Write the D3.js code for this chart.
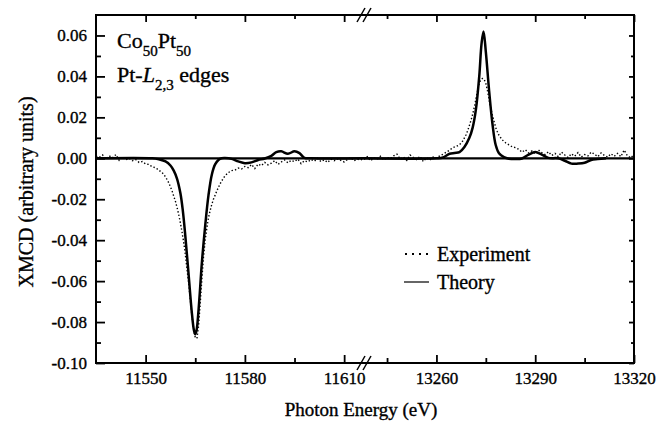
<!DOCTYPE html>
<html>
<head>
<meta charset="utf-8">
<style>
    body { margin: 0; background: #fff; }
    svg { display: block; font-family: 'Liberation Serif', 'Times New Roman', serif; }
    svg text { stroke: #000; stroke-width: 0.35px; }
</style>
</head>
<body>
<svg width="670" height="422"></svg>
<script src="https://d3js.org/d3.v7.min.js"></script>
<script>
// axis ticks
const yMajor = [-0.10, -0.08, -0.06, -0.04, -0.02, 0.00, 0.02, 0.04, 0.06];
const yMinor = [-0.09, -0.07, -0.05, -0.03, -0.01, 0.01, 0.03, 0.05];
const xLeftMajor = [11550, 11580, 11610];
const xLeftMinor = [11565, 11595];
const xRightMajor = [13260, 13290, 13320];
const xRightMinor = [13245, 13275, 13305];

// Pt-L3 edge (left segment) - theory
const thLeftE = [11535, 11552, 11554, 11556, 11557.5, 11558.5, 11559.5, 11560.5, 11561.2, 11562, 11563, 11564, 11564.6, 11565, 11565.4, 11566, 11567, 11568, 11569, 11570, 11571, 11572, 11573, 11574, 11576, 11578, 11580, 11582, 11584, 11586, 11588, 11589.5, 11591, 11593, 11595, 11596.5, 11598, 11600, 11616];
const thLeftV = [0, 0, -0.0005, -0.0015, -0.0035, -0.006, -0.010, -0.017, -0.025, -0.038, -0.057, -0.076, -0.084, -0.086, -0.084, -0.074, -0.051, -0.033, -0.018, -0.008, -0.003, -0.0008, 0, 0.0001, -0.0003, -0.0015, -0.0024, -0.002, -0.0008, -0.0001, 0.0012, 0.003, 0.0034, 0.0022, 0.0034, 0.0025, 0.0002, 0, 0];

// Pt-L3 edge (left segment) - experiment
const exLeftE = [11535, 11536, 11537, 11538, 11539, 11540, 11541, 11542, 11543, 11544, 11545, 11546, 11547, 11548, 11549, 11550, 11551, 11552, 11553, 11554, 11555, 11556, 11556.5, 11557, 11557.5, 11558, 11558.5, 11559, 11559.5, 11560, 11560.5, 11561, 11561.5, 11562, 11562.5, 11563, 11563.5, 11564, 11564.5, 11565, 11565.5, 11566, 11566.5, 11567, 11567.5, 11568, 11568.5, 11569, 11569.5, 11570, 11570.5, 11571, 11571.5, 11572, 11572.5, 11573, 11573.5, 11574, 11575, 11576, 11577, 11578, 11579, 11580, 11581, 11582, 11583, 11584, 11585, 11586, 11587, 11588, 11589, 11590, 11591, 11592, 11593, 11594, 11595, 11596, 11597, 11598, 11599, 11600, 11601, 11602, 11603, 11604, 11605, 11606, 11607, 11608, 11609, 11610, 11611, 11612, 11613, 11614, 11615, 11616];
const exLeftV = [0.0010, 0.0005, 0.0016, -0.0004, 0.0012, 0.0002, 0.0018, -0.0010, 0.0006, -0.0008, 0.0000, -0.0012, -0.0006, -0.0020, -0.0016, -0.0028, -0.0030, -0.0042, -0.0046, -0.0058, -0.0070, -0.0090, -0.0105, -0.0120, -0.0140, -0.0160, -0.0185, -0.0210, -0.0240, -0.0275, -0.0315, -0.0360, -0.0410, -0.0470, -0.0540, -0.0610, -0.0690, -0.0770, -0.0835, -0.0875, -0.0880, -0.0820, -0.0710, -0.0590, -0.0480, -0.0400, -0.0340, -0.0290, -0.0255, -0.0225, -0.0200, -0.0180, -0.0160, -0.0142, -0.0125, -0.0110, -0.0098, -0.0085, -0.0070, -0.0060, -0.0058, -0.0048, -0.0052, -0.0040, -0.0046, -0.0030, -0.0050, -0.0028, -0.0036, -0.0020, -0.0032, -0.0024, -0.0012, -0.0030, -0.0018, -0.0008, -0.0022, -0.0010, -0.0016, -0.0004, -0.0026, -0.0012, -0.0018, -0.0006, -0.0014, 0.0000, -0.0016, -0.0008, -0.0020, -0.0004, -0.0012, -0.0002, -0.0010, -0.0018, -0.0006, 0.0004, -0.0012, -0.0004, -0.0008, -0.0002];

// Pt-L2 edge (right segment) - theory
const thRightE = [13238, 13260, 13262, 13264, 13265.5, 13267, 13268.5, 13270, 13271, 13272, 13273, 13273.7, 13274.3, 13275, 13276, 13277, 13278, 13279, 13280.5, 13282, 13284, 13286, 13288, 13290, 13292, 13294, 13297, 13299, 13301, 13303, 13305, 13307, 13309, 13311.5];
const thRightV = [0, 0, 0.0004, 0.0022, 0.0026, 0.003, 0.0055, 0.010, 0.015, 0.024, 0.040, 0.056, 0.062, 0.052, 0.033, 0.017, 0.0065, 0.0025, 0.0006, -0.0002, -0.0004, -0.0001, 0.0018, 0.0031, 0.0018, 0.0002, 0, -0.0012, -0.0026, -0.0026, -0.0022, -0.0008, -0.0004, 0];

// Pt-L2 edge (right segment) - experiment
const exRightE = [13238, 13239, 13240, 13241, 13242, 13243, 13244, 13245, 13246, 13247, 13248, 13249, 13250, 13251, 13252, 13253, 13254, 13255, 13256, 13257, 13258, 13259, 13260, 13261, 13262, 13263, 13264, 13265, 13266, 13267, 13268, 13268.5, 13269, 13269.5, 13270, 13270.5, 13271, 13271.5, 13272, 13272.5, 13273, 13273.5, 13274, 13274.5, 13275, 13275.5, 13276, 13276.5, 13277, 13277.5, 13278, 13278.5, 13279, 13280, 13281, 13282, 13283, 13284, 13285, 13286, 13287, 13288, 13289, 13290, 13291, 13292, 13293, 13294, 13295, 13296, 13297, 13298, 13299, 13300, 13301, 13302, 13303, 13304, 13305, 13306, 13307, 13308, 13309, 13310, 13311, 13312, 13313, 13314, 13315, 13316, 13317, 13318, 13319, 13320];
const exRightV = [-0.0006, 0.0008, -0.0012, 0.0002, -0.0004, 0.0010, -0.0008, 0.0004, -0.0002, 0.0012, 0.0020, -0.0004, 0.0006, -0.0010, 0.0016, 0.0004, -0.0006, 0.0010, -0.0016, 0.0002, -0.0008, 0.0006, 0.0000, 0.0012, 0.0020, 0.0030, 0.0040, 0.0052, 0.0058, 0.0066, 0.0085, 0.0100, 0.0115, 0.0135, 0.0160, 0.0185, 0.0215, 0.0250, 0.0290, 0.0330, 0.0365, 0.0385, 0.0390, 0.0385, 0.0365, 0.0330, 0.0285, 0.0245, 0.0210, 0.0180, 0.0150, 0.0130, 0.0112, 0.0090, 0.0076, 0.0066, 0.0056, 0.0052, 0.0044, 0.0030, 0.0042, 0.0026, 0.0036, 0.0022, 0.0040, 0.0028, 0.0018, 0.0032, 0.0014, 0.0024, 0.0008, 0.0030, 0.0016, 0.0004, 0.0022, 0.0010, 0.0028, 0.0006, 0.0018, 0.0012, 0.0030, 0.0020, 0.0008, 0.0026, 0.0014, 0.0006, 0.0022, 0.0010, 0.0024, 0.0008, 0.0040, 0.0012, 0.0002, 0.0018];

const svg = d3.select("svg");
const pLeft = 96, pRight = 634, pTop = 15, pBottom = 363, brk = 364;
const serif = "'Liberation Serif', 'Times New Roman', serif";

const y = d3.scaleLinear().domain([-0.10, 0.07]).range([pBottom, pTop]);
const xL = d3.scaleLinear().domain([11535, 11616]).range([pLeft, brk]);
const xR = d3.scaleLinear().domain([13238, 13320]).range([brk, pRight]);

// clip paths for the two segments
const defs = svg.append("defs");
defs.append("clipPath").attr("id", "clipL").append("rect")
    .attr("x", pLeft).attr("y", pTop).attr("width", brk - pLeft).attr("height", pBottom - pTop);
defs.append("clipPath").attr("id", "clipR").append("rect")
    .attr("x", brk).attr("y", pTop).attr("width", pRight - brk).attr("height", pBottom - pTop);

function drawSegment(x, clip, thE, thV, exE, exV) {
    let g = svg.append("g").attr("clip-path", "url(#" + clip + ")");
    let line = d3.line().x(d => x(d[0])).y(d => y(d[1]));
    g.append("path")
        .datum(exE.map((e, i) => [e, exV[i]]))
        .attr("d", line)
        .style("fill", "none")
        .style("stroke", "#000")
        .style("stroke-width", 1.4)
        .style("stroke-dasharray", "1.4,2.1");
    g.append("path")
        .datum(thE.map((e, i) => [e, thV[i]]))
        .attr("d", line.curve(d3.curveCatmullRom))
        .style("fill", "none")
        .style("stroke", "#000")
        .style("stroke-width", 2.5);
}

drawSegment(xL, "clipL", thLeftE, thLeftV, exLeftE, exLeftV);
drawSegment(xR, "clipR", thRightE, thRightV, exRightE, exRightV);

// zero line
svg.append("line")
    .attr("x1", pLeft).attr("x2", pRight)
    .attr("y1", y(0)).attr("y2", y(0))
    .style("stroke", "#000").style("stroke-width", 2.2);

// axes
function xAxes(x, major, minor) {
    svg.append("g").attr("transform", `translate(0,${pBottom})`)
        .call(d3.axisBottom(x).tickValues(major).tickSize(-8).tickPadding(9).tickFormat(d3.format("d")));
    svg.append("g").attr("transform", `translate(0,${pBottom})`)
        .call(d3.axisBottom(x).tickValues(minor).tickSize(-5).tickFormat(""));
    svg.append("g").attr("transform", `translate(0,${pTop})`)
        .call(d3.axisTop(x).tickValues(major).tickSize(-7).tickFormat(""));
    svg.append("g").attr("transform", `translate(0,${pTop})`)
        .call(d3.axisTop(x).tickValues(minor).tickSize(-4).tickFormat(""));
}
xAxes(xL, xLeftMajor, xLeftMinor);
xAxes(xR, xRightMajor, xRightMinor);

svg.append("g").attr("transform", `translate(${pLeft},0)`)
    .call(d3.axisLeft(y).tickValues(yMajor).tickSize(-9).tickPadding(9).tickFormat(d3.format(".2f")));
svg.append("g").attr("transform", `translate(${pLeft},0)`)
    .call(d3.axisLeft(y).tickValues(yMinor).tickSize(-5).tickFormat(""));
svg.append("g").attr("transform", `translate(${pRight},0)`)
    .call(d3.axisRight(y).tickValues(yMajor).tickSize(-5).tickFormat(""));
svg.append("g").attr("transform", `translate(${pRight},0)`)
    .call(d3.axisRight(y).tickValues(yMinor).tickSize(-3).tickFormat(""));

svg.selectAll(".domain").remove();
svg.selectAll(".tick line").style("stroke", "#000").style("stroke-width", 1.8);
svg.selectAll(".tick text")
    .attr("font-family", serif)
    .style("font-family", serif)
    .style("font-size", "17px")
    .style("fill", "#000")
    .text(function () { return this.textContent.replace("−", "-"); });

// frame
svg.append("rect")
    .attr("x", pLeft).attr("y", pTop)
    .attr("width", pRight - pLeft).attr("height", pBottom - pTop)
    .style("fill", "none").style("stroke", "#000").style("stroke-width", 2);

// break marks
[pTop, pBottom].forEach(yy => {
    [-3, 3].forEach(dx => {
        svg.append("line")
            .attr("x1", brk + dx - 4).attr("y1", yy + 7)
            .attr("x2", brk + dx + 4).attr("y2", yy - 7)
            .style("stroke", "#000").style("stroke-width", 1.5);
    });
});

// sample label
let lab = svg.append("text").attr("x", 117).attr("y", 48).style("font-size", "22px");
lab.append("tspan").text("Co");
lab.append("tspan").attr("dy", 8).style("font-size", "15px").text("50");
lab.append("tspan").attr("dy", -8).text("Pt");
lab.append("tspan").attr("dy", 8).style("font-size", "15px").text("50");

let lab2 = svg.append("text").attr("x", 117).attr("y", 82).style("font-size", "22px");
lab2.append("tspan").text("Pt-");
lab2.append("tspan").style("font-style", "italic").text("L");
lab2.append("tspan").attr("dy", 8).style("font-size", "15px").text("2,3");
lab2.append("tspan").attr("dy", -8).text(" edges");

// legend
const legend = svg.append("g");
legend.append("line").attr("x1", 405).attr("x2", 429).attr("y1", 254).attr("y2", 254)
    .style("stroke", "#000").style("stroke-width", 1.8).style("stroke-dasharray", "2,5");
legend.append("text").attr("x", 437).attr("y", 261).style("font-size", "20px").text("Experiment");
legend.append("line").attr("x1", 404).attr("x2", 429).attr("y1", 282).attr("y2", 282)
    .style("stroke", "#000").style("stroke-width", 1.2);
legend.append("text").attr("x", 437).attr("y", 289).style("font-size", "20px").text("Theory");

// axis titles
svg.append("text")
    .attr("x", 361).attr("y", 416)
    .attr("text-anchor", "middle")
    .style("font-size", "19px")
    .text("Photon Energy (eV)");
svg.append("text")
    .attr("transform", "translate(33,192) rotate(-90)")
    .attr("text-anchor", "middle")
    .style("font-size", "20px")
    .text("XMCD (arbitrary units)");
</script>
</body>
</html>
